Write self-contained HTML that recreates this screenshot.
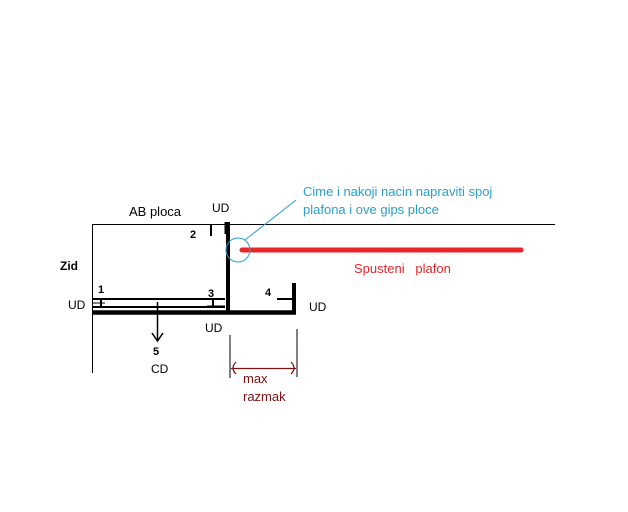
<!DOCTYPE html>
<html><head><style>
html,body{margin:0;padding:0;background:#fff;}
svg{display:block;}
text{font-family:"Liberation Sans",sans-serif;}
</style></head><body>
<svg width="628" height="512" viewBox="0 0 628 512" xmlns="http://www.w3.org/2000/svg">
<rect width="628" height="512" fill="#fff"/>
<!-- wall and slab -->
<line x1="92.5" y1="224" x2="92.5" y2="373" stroke="#000" stroke-width="1"/>
<line x1="92" y1="224.5" x2="555" y2="224.5" stroke="#000" stroke-width="1"/>
<!-- vertical board -->
<line x1="228" y1="222" x2="228" y2="312" stroke="#000" stroke-width="4"/>
<line x1="226" y1="222" x2="226" y2="234" stroke="#000" stroke-width="3"/>
<!-- mark 2 -->
<line x1="211" y1="224" x2="211" y2="236" stroke="#000" stroke-width="2"/>
<!-- bottom thick -->
<line x1="92" y1="312.5" x2="296" y2="312.5" stroke="#000" stroke-width="4.5"/>
<line x1="294" y1="283" x2="294" y2="314" stroke="#000" stroke-width="4"/>
<line x1="277" y1="299" x2="293" y2="299" stroke="#000" stroke-width="2"/>
<!-- CD profile -->
<line x1="93" y1="299" x2="225" y2="299" stroke="#000" stroke-width="2"/>
<line x1="93" y1="307" x2="225" y2="307" stroke="#000" stroke-width="2"/>
<line x1="101" y1="298" x2="101" y2="308" stroke="#000" stroke-width="2"/>
<line x1="93" y1="303" x2="105" y2="303" stroke="#000" stroke-width="1"/>
<line x1="213" y1="298" x2="213" y2="308" stroke="#000" stroke-width="2"/>
<line x1="207" y1="306" x2="225" y2="306" stroke="#000" stroke-width="1"/>
<!-- arrow 5 -->
<line x1="157.5" y1="302" x2="157.5" y2="340" stroke="#000" stroke-width="1.5"/>
<polyline points="152,333 157.5,341 163,333" fill="none" stroke="#000" stroke-width="1.5"/>
<!-- circle and red plafond -->
<line x1="242" y1="250" x2="521" y2="250" stroke="#e8262a" stroke-width="5" stroke-linecap="round"/>
<circle cx="238" cy="250" r="12" fill="none" stroke="#2a9fcf" stroke-width="1"/>
<line x1="245" y1="240" x2="296" y2="200" stroke="#2a9fcf" stroke-width="1"/>
<!-- dimension -->
<line x1="230" y1="335" x2="230" y2="378" stroke="#000" stroke-width="1"/>
<line x1="297" y1="329" x2="297" y2="377" stroke="#000" stroke-width="1"/>
<line x1="231" y1="368.5" x2="296" y2="368.5" stroke="#7a1010" stroke-width="1.2"/>
<path d="M236,362 Q230,368 236,374" fill="none" stroke="#7a1010" stroke-width="1.2"/>
<path d="M291,362 Q297,368 291,374" fill="none" stroke="#7a1010" stroke-width="1.2"/>
<!-- labels -->
<text x="129" y="216" font-size="13">AB ploca</text>
<text x="212" y="212" font-size="12">UD</text>
<text x="303" y="196" font-size="13" fill="#2a9fcf">Cime i nakoji nacin napraviti spoj</text>
<text x="303" y="214" font-size="13" fill="#2a9fcf">plafona i ove gips ploce</text>
<text x="190" y="238" font-size="11" font-weight="bold" font-family="Liberation Serif">2</text>
<text x="60" y="270" font-size="12" font-weight="bold">Zid</text>
<text x="98" y="293" font-size="11" font-weight="bold" font-family="Liberation Serif">1</text>
<text x="208" y="297" font-size="11" font-weight="bold" font-family="Liberation Serif">3</text>
<text x="265" y="296" font-size="11" font-weight="bold" font-family="Liberation Serif">4</text>
<text x="68" y="309" font-size="12">UD</text>
<text x="309" y="311" font-size="12">UD</text>
<text x="205" y="332" font-size="12">UD</text>
<text x="153" y="355" font-size="11" font-weight="bold" font-family="Liberation Serif">5</text>
<text x="151" y="373" font-size="12">CD</text>
<text x="354" y="273" font-size="13" fill="#e8262a">Spusteni&#160;&#160; plafon</text>
<text x="243" y="383" font-size="13" fill="#7a1010">max</text>
<text x="243" y="401" font-size="13" fill="#7a1010">razmak</text>
</svg>
</body></html>
